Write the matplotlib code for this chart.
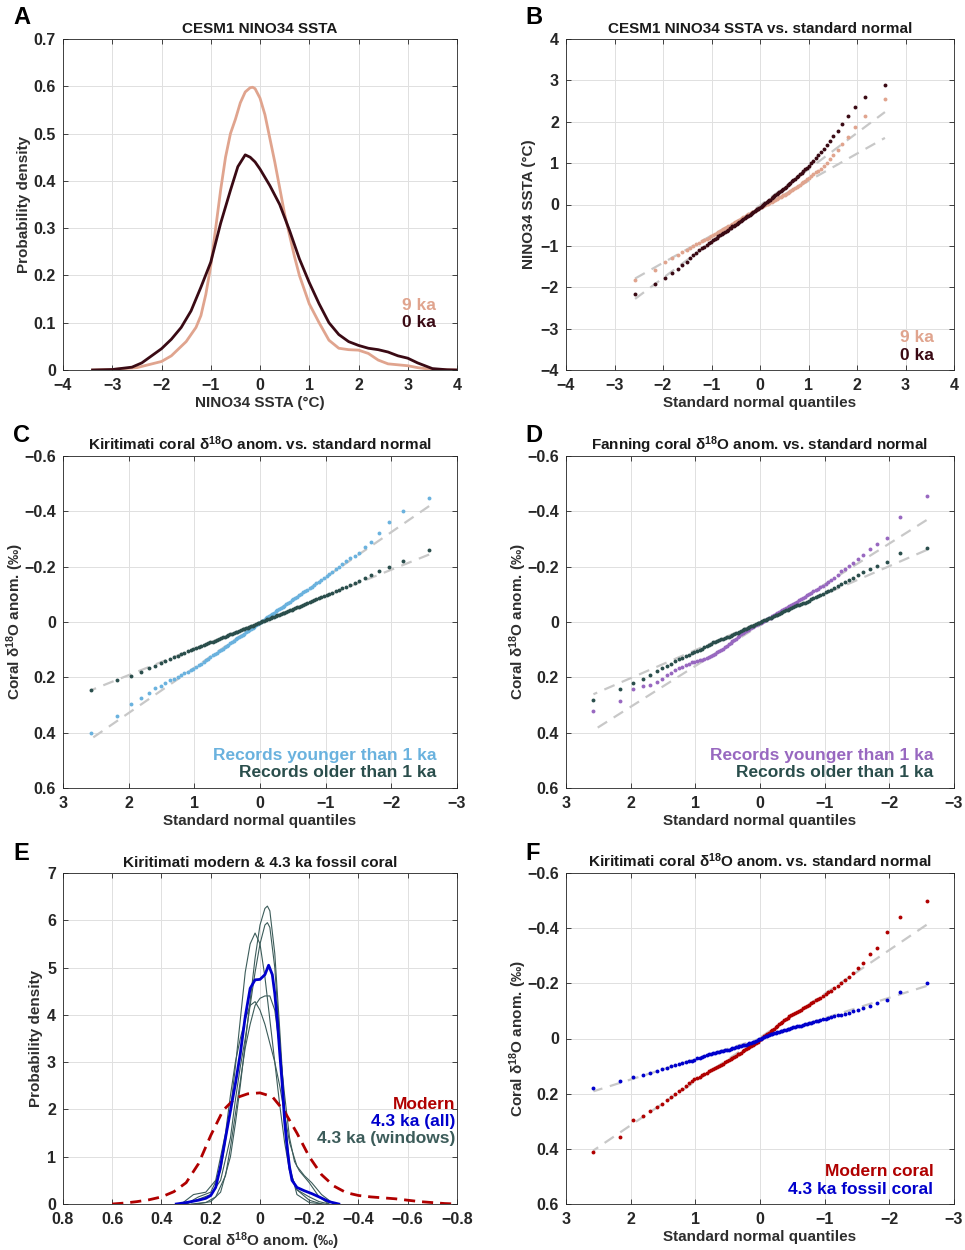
import numpy as np
import matplotlib
matplotlib.use("Agg")
import matplotlib.pyplot as plt
from matplotlib.ticker import FuncFormatter
from statistics import NormalDist

plt.rcParams["font.family"] = ["Liberation Sans", "DejaVu Sans"]
plt.rcParams["font.weight"] = "bold"
plt.rcParams["mathtext.fontset"] = "custom"
plt.rcParams["mathtext.rm"] = "Liberation Sans"
plt.rcParams["mathtext.bf"] = "Liberation Sans:bold"
plt.rcParams["mathtext.it"] = "Liberation Sans:italic"
plt.rcParams["mathtext.default"] = "regular"

# ---- panel A: KDE of NINO34 SSTA ----
a_x9 = [-3.4, -3.0, -2.5, -2.0, -1.8, -1.5, -1.3, -1.2, -1.1, -1.0, -0.9, -0.8, -0.7, -0.6,
        -0.5, -0.4, -0.3, -0.2, -0.15, -0.1, 0.0, 0.1, 0.2, 0.3, 0.4, 0.5, 0.6, 0.7, 0.8,
        0.9, 1.0, 1.2, 1.4, 1.6, 1.8, 2.0, 2.2, 2.4, 2.6, 2.8, 3.0, 3.2, 3.5, 4.0]
a_y9 = [0.0, 0.001, 0.005, 0.018, 0.03, 0.06, 0.09, 0.115, 0.16, 0.22, 0.30, 0.38, 0.45, 0.50,
        0.53, 0.565, 0.588, 0.597, 0.598, 0.595, 0.575, 0.54, 0.49, 0.44, 0.385, 0.33, 0.285,
        0.24, 0.20, 0.17, 0.14, 0.10, 0.063, 0.046, 0.043, 0.042, 0.035, 0.021, 0.013, 0.011,
        0.009, 0.005, 0.001, 0.0]
a_x0 = [-3.4, -3.0, -2.6, -2.4, -2.2, -2.0, -1.8, -1.6, -1.4, -1.2, -1.0, -0.8, -0.6, -0.45,
        -0.3, -0.2, -0.1, 0.0, 0.2, 0.4, 0.6, 0.8, 1.0, 1.2, 1.4, 1.6, 1.8, 2.0, 2.2, 2.4,
        2.6, 2.8, 3.0, 3.2, 3.5, 3.8, 4.0]
a_y0 = [0.0, 0.001, 0.006, 0.015, 0.03, 0.045, 0.065, 0.09, 0.125, 0.175, 0.228, 0.31, 0.38,
        0.43, 0.455, 0.45, 0.44, 0.425, 0.39, 0.35, 0.295, 0.235, 0.185, 0.14, 0.10, 0.075,
        0.06, 0.052, 0.046, 0.043, 0.038, 0.03, 0.025, 0.015, 0.003, 0.0005, 0.0]

# ---- panel B: sorted NINO34 SSTA samples (100 each) ----
b_9ka = [-1.83, -1.58, -1.40, -1.30, -1.22, -1.15, -1.10, -1.05, -1.00, -0.96,
         -0.92, -0.89, -0.86, -0.83, -0.80, -0.77, -0.74, -0.72, -0.69, -0.66,
         -0.64, -0.62, -0.59, -0.57, -0.55, -0.53, -0.51, -0.49, -0.47, -0.45,
         -0.43, -0.41, -0.39, -0.37, -0.35, -0.33, -0.31, -0.30, -0.28, -0.26,
         -0.24, -0.23, -0.21, -0.19, -0.17, -0.16, -0.14, -0.12, -0.11, -0.09,
         -0.06, -0.05, -0.04, -0.02, -0.01, 0.01, 0.02, 0.03, 0.05, 0.06,
         0.08, 0.10, 0.11, 0.13, 0.15, 0.17, 0.18, 0.20, 0.22, 0.24,
         0.26, 0.28, 0.31, 0.33, 0.35, 0.37, 0.40, 0.42, 0.45, 0.48,
         0.51, 0.54, 0.57, 0.61, 0.65, 0.69, 0.73, 0.78, 0.82, 0.87,
         0.93, 1.00, 1.10, 1.20, 1.32, 1.46, 1.64, 1.88, 2.14, 2.54]
b_0ka = [-2.16, -1.93, -1.77, -1.66, -1.55, -1.46, -1.38, -1.30, -1.23, -1.17,
         -1.11, -1.06, -1.02, -0.98, -0.94, -0.90, -0.87, -0.83, -0.80, -0.77,
         -0.74, -0.71, -0.69, -0.66, -0.63, -0.61, -0.58, -0.56, -0.53, -0.51,
         -0.49, -0.46, -0.44, -0.42, -0.40, -0.37, -0.35, -0.33, -0.31, -0.29,
         -0.27, -0.25, -0.23, -0.21, -0.18, -0.16, -0.14, -0.12, -0.10, -0.08,
         -0.06, -0.04, -0.01, 0.01, 0.03, 0.06, 0.08, 0.10, 0.12, 0.15,
         0.17, 0.20, 0.22, 0.25, 0.27, 0.30, 0.32, 0.35, 0.37, 0.40,
         0.43, 0.46, 0.49, 0.52, 0.56, 0.59, 0.62, 0.66, 0.70, 0.73,
         0.77, 0.81, 0.85, 0.89, 0.94, 1.00, 1.06, 1.12, 1.19, 1.26,
         1.33, 1.43, 1.53, 1.65, 1.78, 1.94, 2.14, 2.36, 2.60, 2.90]

# ---- panel C: Kiritimati coral d18O anomalies (sorted) ----
c_young = [-0.45, -0.40, -0.36, -0.32, -0.29, -0.27, -0.25, -0.24, -0.23, -0.22,
           -0.21, -0.20, -0.19, -0.18, -0.175, -0.165, -0.159, -0.152, -0.146, -0.140,
           -0.134, -0.128, -0.123, -0.117, -0.112, -0.107, -0.102, -0.097, -0.092, -0.087,
           -0.082, -0.078, -0.073, -0.068, -0.064, -0.059, -0.055, -0.051, -0.046, -0.042,
           -0.038, -0.033, -0.029, -0.025, -0.021, -0.017, -0.013, -0.008, -0.004, 0.000,
           0.004, 0.008, 0.012, 0.017, 0.021, 0.025, 0.029, 0.033, 0.037, 0.042,
           0.046, 0.050, 0.055, 0.059, 0.063, 0.068, 0.072, 0.077, 0.082, 0.086,
           0.091, 0.096, 0.101, 0.106, 0.111, 0.116, 0.121, 0.127, 0.132, 0.138,
           0.144, 0.150, 0.156, 0.163, 0.170, 0.175, 0.180, 0.185, 0.190, 0.200,
           0.205, 0.210, 0.220, 0.230, 0.240, 0.255, 0.275, 0.295, 0.340, 0.400]
c_old = [-0.262, -0.222, -0.200, -0.186, -0.170, -0.160, -0.150, -0.142, -0.135, -0.128,
         -0.122, -0.116, -0.111, -0.106, -0.101, -0.097, -0.093, -0.089, -0.085, -0.082,
         -0.078, -0.075, -0.071, -0.068, -0.065, -0.062, -0.059, -0.056, -0.053, -0.050,
         -0.048, -0.045, -0.042, -0.040, -0.037, -0.034, -0.032, -0.029, -0.027, -0.024,
         -0.022, -0.019, -0.017, -0.014, -0.012, -0.010, -0.007, -0.005, -0.002, 0.000,
         0.003, 0.005, 0.008, 0.010, 0.013, 0.015, 0.018, 0.020, 0.022, 0.025,
         0.027, 0.030, 0.032, 0.035, 0.037, 0.040, 0.042, 0.045, 0.048, 0.050,
         0.053, 0.056, 0.059, 0.062, 0.065, 0.068, 0.071, 0.074, 0.077, 0.080,
         0.084, 0.087, 0.090, 0.094, 0.097, 0.101, 0.106, 0.111, 0.116, 0.122,
         0.128, 0.134, 0.141, 0.149, 0.158, 0.168, 0.180, 0.194, 0.210, 0.247]

# ---- panel D: Fanning coral d18O anomalies (sorted) ----
d_young = [-0.455, -0.378, -0.305, -0.282, -0.264, -0.242, -0.226, -0.214, -0.203, -0.193,
           -0.183, -0.170, -0.160, -0.151, -0.143, -0.136, -0.131, -0.126, -0.121, -0.117,
           -0.112, -0.106, -0.101, -0.096, -0.091, -0.087, -0.083, -0.078, -0.074, -0.070,
           -0.066, -0.063, -0.059, -0.055, -0.052, -0.048, -0.044, -0.040, -0.036, -0.032,
           -0.028, -0.024, -0.020, -0.016, -0.013, -0.010, -0.007, -0.004, -0.001, 0.002,
           0.005, 0.008, 0.011, 0.014, 0.017, 0.020, 0.024, 0.028, 0.032, 0.036,
           0.040, 0.045, 0.050, 0.055, 0.060, 0.065, 0.070, 0.075, 0.080, 0.085,
           0.092, 0.097, 0.101, 0.105, 0.110, 0.114, 0.118, 0.122, 0.126, 0.130,
           0.133, 0.136, 0.139, 0.141, 0.143, 0.146, 0.150, 0.155, 0.161, 0.168,
           0.175, 0.184, 0.193, 0.205, 0.217, 0.226, 0.231, 0.243, 0.287, 0.320]
d_old = [-0.268, -0.248, -0.218, -0.204, -0.191, -0.180, -0.170, -0.160, -0.151, -0.143,
         -0.136, -0.129, -0.123, -0.117, -0.112, -0.107, -0.103, -0.099, -0.095, -0.091,
         -0.087, -0.083, -0.077, -0.073, -0.070, -0.067, -0.064, -0.061, -0.060, -0.057,
         -0.054, -0.051, -0.048, -0.045, -0.042, -0.039, -0.036, -0.033, -0.030, -0.027,
         -0.025, -0.022, -0.019, -0.016, -0.014, -0.011, -0.008, -0.006, -0.003, 0.000,
         0.002, 0.005, 0.008, 0.010, 0.013, 0.016, 0.018, 0.021, 0.024, 0.027,
         0.029, 0.032, 0.035, 0.038, 0.041, 0.044, 0.047, 0.050, 0.053, 0.056,
         0.059, 0.062, 0.063, 0.065, 0.068, 0.071, 0.074, 0.078, 0.082, 0.086,
         0.090, 0.096, 0.100, 0.104, 0.108, 0.113, 0.118, 0.123, 0.129, 0.135,
         0.142, 0.150, 0.158, 0.168, 0.177, 0.190, 0.205, 0.220, 0.241, 0.283]

# ---- panel E: KDE of Kiritimati modern and 4.3 ka coral ----
e_mod_x = [0.60, 0.55, 0.50, 0.45, 0.40, 0.35, 0.30, 0.25, 0.20, 0.15, 0.10, 0.05, 0.0, -0.05,
           -0.10, -0.15, -0.20, -0.25, -0.30, -0.35, -0.40, -0.45, -0.50, -0.55, -0.60,
           -0.65, -0.70, -0.75, -0.80]
e_mod_y = [0.0, 0.02, 0.05, 0.09, 0.15, 0.26, 0.45, 0.85, 1.45, 1.98, 2.24, 2.33, 2.35, 2.27,
           1.95, 1.50, 1.00, 0.62, 0.38, 0.24, 0.18, 0.15, 0.13, 0.11, 0.08, 0.05, 0.03, 0.01, 0.0]
e_all_x = [0.34, 0.30, 0.25, 0.22, 0.20, 0.18, 0.16, 0.14, 0.12, 0.10, 0.08, 0.06, 0.04, 0.02,
           0.0, -0.02, -0.035, -0.05, -0.06, -0.07, -0.08, -0.09, -0.10, -0.11, -0.12, -0.13,
           -0.15, -0.18, -0.21, -0.24, -0.28, -0.32]
e_all_y = [0.0, 0.03, 0.08, 0.12, 0.18, 0.35, 0.80, 1.40, 1.97, 2.54, 3.18, 3.96, 4.56, 4.74,
           4.75, 4.85, 5.05, 4.85, 4.45, 3.90, 3.20, 2.55, 1.75, 1.20, 0.78, 0.50, 0.35, 0.28,
           0.22, 0.15, 0.05, 0.0]
e_win_x = [
    [0.26, 0.20, 0.16, 0.12, 0.10, 0.08, 0.06, 0.04, 0.02, 0.0, -0.02, -0.03, -0.04, -0.06,
     -0.08, -0.10, -0.12, -0.15, -0.20, -0.26],
    [0.30, 0.25, 0.20, 0.16, 0.12, 0.10, 0.08, 0.06, 0.04, 0.02, 0.0, -0.02, -0.03, -0.04,
     -0.06, -0.08, -0.10, -0.12, -0.15, -0.20, -0.24, -0.28],
    [0.30, 0.25, 0.20, 0.16, 0.12, 0.10, 0.08, 0.06, 0.04, 0.02, 0.0, -0.02, -0.04, -0.06,
     -0.08, -0.10, -0.12, -0.15, -0.20, -0.25],
    [0.28, 0.22, 0.18, 0.14, 0.12, 0.10, 0.08, 0.06, 0.04, 0.02, 0.0, -0.02, -0.04, -0.06,
     -0.08, -0.10, -0.12, -0.14, -0.16, -0.20, -0.24, -0.28],
    [0.32, 0.27, 0.22, 0.18, 0.14, 0.12, 0.10, 0.08, 0.06, 0.04, 0.02, 0.0, -0.02, -0.04,
     -0.06, -0.08, -0.10, -0.12, -0.15, -0.18, -0.21, -0.25, -0.30],
]
e_win_y = [
    [0.0, 0.05, 0.25, 1.0, 1.7, 2.5, 3.4, 4.3, 5.2, 5.9, 6.25, 6.3, 6.2, 5.3, 3.7, 2.0, 0.8,
     0.2, 0.03, 0.0],
    [0.0, 0.1, 0.2, 0.5, 1.4, 2.2, 2.9, 3.5, 4.2, 4.9, 5.5, 5.9, 5.95, 5.85, 5.0, 3.5, 1.8,
     0.7, 0.3, 0.15, 0.05, 0.0],
    [0.0, 0.15, 0.25, 0.7, 2.0, 2.9, 3.9, 4.9, 5.5, 5.73, 5.5, 4.8, 3.9, 3.0, 2.1, 1.3, 0.7,
     0.3, 0.08, 0.0],
    [0.0, 0.03, 0.15, 0.6, 1.2, 1.9, 2.6, 3.3, 3.8, 4.2, 4.35, 4.4, 4.4, 4.1, 3.3, 2.3, 1.4,
     0.9, 0.7, 0.45, 0.15, 0.0],
    [0.0, 0.2, 0.25, 0.5, 1.5, 2.3, 3.0, 3.5, 3.9, 4.2, 4.28, 4.1, 3.8, 3.4, 3.0, 2.5, 1.9,
     1.3, 0.8, 0.6, 0.45, 0.2, 0.0],
]

# ---- panel F: Kiritimati modern vs 4.3 ka fossil coral (sorted) ----
f_modern = [-0.500, -0.441, -0.386, -0.328, -0.305, -0.274, -0.255, -0.236, -0.222, -0.212,
            -0.202, -0.192, -0.183, -0.174, -0.167, -0.160, -0.154, -0.148, -0.143, -0.138,
            -0.133, -0.128, -0.123, -0.118, -0.114, -0.109, -0.105, -0.101, -0.097, -0.093,
            -0.089, -0.085, -0.080, -0.076, -0.071, -0.066, -0.061, -0.056, -0.051, -0.046,
            -0.041, -0.036, -0.031, -0.026, -0.021, -0.017, -0.012, -0.008, -0.003, 0.002,
            0.007, 0.011, 0.015, 0.019, 0.023, 0.027, 0.031, 0.035, 0.039, 0.043,
            0.047, 0.051, 0.055, 0.058, 0.062, 0.066, 0.070, 0.074, 0.078, 0.083,
            0.087, 0.091, 0.095, 0.099, 0.103, 0.107, 0.111, 0.115, 0.119, 0.124,
            0.128, 0.133, 0.138, 0.143, 0.148, 0.155, 0.163, 0.172, 0.183, 0.192,
            0.202, 0.213, 0.224, 0.236, 0.249, 0.264, 0.280, 0.296, 0.357, 0.410]
f_fossil = [-0.200, -0.168, -0.141, -0.128, -0.117, -0.110, -0.104, -0.098, -0.094, -0.090,
            -0.087, -0.084, -0.081, -0.078, -0.075, -0.072, -0.069, -0.067, -0.064, -0.062,
            -0.060, -0.058, -0.055, -0.053, -0.051, -0.049, -0.047, -0.045, -0.044, -0.042,
            -0.040, -0.038, -0.036, -0.034, -0.032, -0.030, -0.029, -0.027, -0.025, -0.023,
            -0.021, -0.019, -0.017, -0.015, -0.013, -0.010, -0.008, -0.005, -0.003, 0.000,
            0.003, 0.006, 0.008, 0.011, 0.013, 0.016, 0.018, 0.020, 0.023, 0.024,
            0.025, 0.027, 0.029, 0.030, 0.032, 0.034, 0.036, 0.038, 0.040, 0.041,
            0.043, 0.045, 0.046, 0.048, 0.050, 0.052, 0.054, 0.056, 0.058, 0.061,
            0.063, 0.066, 0.069, 0.072, 0.077, 0.080, 0.083, 0.086, 0.089, 0.093,
            0.097, 0.101, 0.106, 0.112, 0.119, 0.125, 0.133, 0.141, 0.155, 0.179]

# colours
c9ka = "#E0A48E"
c0ka = "#3A0A14"
cblue_l = "#6AB2DE"
cteal = "#2A4E4C"
cpurple = "#9868C0"
cred = "#B00000"
cblue = "#0000CC"
cwin = "#3C5C5A"
cref = "#C8C8C8"
txt = "#1A1A1A"
lab_c = "#2E2E2E"

D18O = r"$\delta^{\mathbf{18}}$O anom."
FS = 11


def fmt(v, pos):
    v = round(v, 6)
    if abs(v) < 1e-9:
        return "0"
    return f"{v:g}".replace("-", "\u2212")


def style(ax, xlim, ylim, xticks, yticks):
    ax.set_xlim(*xlim)
    ax.set_ylim(*ylim)
    ax.set_xticks(xticks)
    ax.set_yticks(yticks)
    ax.xaxis.set_major_formatter(FuncFormatter(fmt))
    ax.yaxis.set_major_formatter(FuncFormatter(fmt))
    ax.grid(True, color="#E0E0E0", lw=0.7)
    ax.set_axisbelow(True)
    ax.tick_params(direction="in", top=True, right=True, length=3.5, width=0.6,
                   colors="#262626", labelsize=11.5)
    ax.tick_params(axis="x", pad=6)
    ax.tick_params(axis="y", pad=5)
    for s in ax.spines.values():
        s.set_color("#262626")
        s.set_linewidth(0.6)


def qq(ax, sample, color):
    y = np.sort(np.asarray(sample))
    n = len(y)
    nd = NormalDist()
    x = np.array([nd.inv_cdf((i + 0.5) / n) for i in range(n)])
    # reference line through the first and third quartiles (as MATLAB qqplot)
    q1, q3 = np.percentile(y, [25, 75])
    z1, z3 = nd.inv_cdf(0.25), nd.inv_cdf(0.75)
    slope = (q3 - q1) / (z3 - z1)
    icpt = q1 - slope * z1
    xl = np.array([x.min(), x.max()])
    ax.plot(xl, icpt + slope * xl, ls=(0, (5, 3.5)), color=cref, lw=1.6, zorder=1)
    ax.plot(x, y, "o", ms=2.8, mew=0, color=color, zorder=3)


def legend_text(ax, x, ys, labels, colors, size=12.5):
    for y, lab, col in zip(ys, labels, colors):
        ax.text(x, y, lab, color=col, fontsize=size, fontweight="bold",
                ha="right", va="center", transform=ax.transAxes)


def labels(ax, title, xlabel, ylabel, ylab_x):
    ax.set_title(title, fontsize=FS, fontweight="bold", color=txt, pad=4)
    ax.set_xlabel(xlabel, fontsize=FS, fontweight="bold", color=lab_c, labelpad=2)
    ax.set_ylabel(ylabel, fontsize=FS, fontweight="bold", color=lab_c)
    ax.yaxis.set_label_coords(ylab_x, 0.5)


fig = plt.figure(figsize=(9.65, 12.5), dpi=100)
W, H = 965.0, 1250.0
rows = [(370, 331), (788, 332), (1204, 331)]
cols = [(63, 394), (566, 388)]
axs = []
for bottom_px, h_px in rows:
    for lft, wid in cols:
        axs.append(fig.add_axes([lft / W, 1 - bottom_px / H, wid / W, h_px / H]))
axA, axB, axC, axD, axE, axF = axs

# A
style(axA, (-4, 4), (0, 0.7), range(-4, 5), np.arange(0, 0.71, 0.1))
axA.plot(a_x9, a_y9, color=c9ka, lw=2.0)
axA.plot(a_x0, a_y0, color=c0ka, lw=2.0)
labels(axA, "CESM1 NINO34 SSTA", "NINO34 SSTA (°C)", "Probability density", -0.080)
legend_text(axA, 0.947, [0.196, 0.145], ["9 ka", "0 ka"], [c9ka, c0ka])

# B
style(axB, (-4, 4), (-4, 4), range(-4, 5), range(-4, 5))
qq(axB, b_9ka, c9ka)
qq(axB, b_0ka, c0ka)
labels(axB, "CESM1 NINO34 SSTA vs. standard normal", "Standard normal quantiles",
       "NINO34 SSTA (°C)", -0.078)
legend_text(axB, 0.947, [0.097, 0.045], ["9 ka", "0 ka"], [c9ka, c0ka])

# C, D, F share the QQ layout with reversed axes
for ax in (axC, axD, axF):
    style(ax, (3, -3), (0.6, -0.6), range(3, -4, -1), np.arange(-0.6, 0.61, 0.2))

qq(axC, c_young, cblue_l)
qq(axC, c_old, cteal)
labels(axC, "Kiritimati coral " + D18O + " vs. standard normal", "Standard normal quantiles",
       "Coral " + D18O + " (‰)", -0.093)
legend_text(axC, 0.947, [0.097, 0.048], ["Records younger than 1 ka", "Records older than 1 ka"],
            [cblue_l, cteal])

qq(axD, d_young, cpurple)
qq(axD, d_old, cteal)
labels(axD, "Fanning coral " + D18O + " vs. standard normal", "Standard normal quantiles",
       "Coral " + D18O + " (‰)", -0.095)
legend_text(axD, 0.947, [0.097, 0.048], ["Records younger than 1 ka", "Records older than 1 ka"],
            [cpurple, cteal])

# E
style(axE, (0.8, -0.8), (0, 7), np.arange(0.8, -0.81, -0.2), range(0, 8))
for wx, wy in zip(e_win_x, e_win_y):
    axE.plot(wx, wy, color=cwin, lw=0.8)
axE.plot(e_mod_x, e_mod_y, color=cred, lw=2.0, ls=(0, (4, 2.5)))
axE.plot(e_all_x, e_all_y, color=cblue, lw=2.0)
labels(axE, "Kiritimati modern & 4.3 ka fossil coral", "Coral " + D18O + " (‰)",
       "Probability density", -0.050)
legend_text(axE, 0.997, [0.30, 0.249, 0.198], ["Modern", "4.3 ka (all)", "4.3 ka (windows)"],
            [cred, cblue, cwin])

# F
qq(axF, f_modern, cred)
qq(axF, f_fossil, cblue)
labels(axF, "Kiritimati coral " + D18O + " vs. standard normal", "Standard normal quantiles",
       "Coral " + D18O + " (‰)", -0.095)
legend_text(axF, 0.947, [0.097, 0.045], ["Modern coral", "4.3 ka fossil coral"], [cred, cblue])

# panel letters
for lab, (px, py) in zip("ABCDEF", [(13, 6), (525, 6), (13, 424), (525, 424), (13, 842), (525, 842)]):
    fig.text(px / W, 1 - py / H, lab, fontsize=17, fontweight="bold", color="black",
             ha="left", va="top")

fig.savefig("out.png", dpi=100)
